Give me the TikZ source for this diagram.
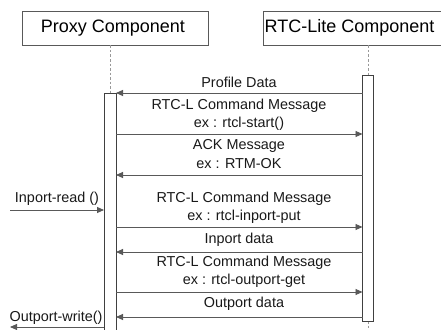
\documentclass[tikz,border=0pt]{standalone}
\usepackage{fontspec}
\setmainfont{Liberation Sans}
\usetikzlibrary{arrows.meta}
\begin{document}
\begin{tikzpicture}[x=1pt,y=-1pt,
  line/.style={draw=black!65, line width=0.9pt},
  objbox/.style={draw=black!65, line width=0.9pt, fill=white},
  objtext/.style={inner sep=0pt, font=\fontsize{18}{22}\selectfont},
  actbox/.style={draw=black!75, line width=0.9pt, fill=white},
  life/.style={draw=black!40, line width=0.9pt, dash pattern=on 2.5pt off 2pt},
  msg/.style={line, -{Triangle[length=7pt,width=6pt]}},
  lbl/.style={font=\fontsize{14.4}{17}\selectfont, inner sep=0pt, text=black!90}]
\useasboundingbox (0,0) rectangle (441,329);
\fill[white] (0,0) rectangle (441,329);

% object boxes
\draw[objbox] (22,11) rectangle (208,45.5);
\node[objtext] (proxy) at (113,28) {Proxy Component};
\draw[objbox] (263,11) rectangle (450,45.5);
\node[objtext, anchor=west] (rtc) at (264.5,28) {RTC-Lite Component};

% lifelines
\coordinate (ptop) at (110,45.5);
\coordinate (rtop) at (368,45.5);
\coordinate (pl) at (110,93);
\coordinate (rl) at (368,75);
\coordinate (rbot) at (368,321);
\coordinate (rend) at (368,329);
\draw[life] (ptop) -- (pl);
\draw[life] (rtop) -- (rl);
\draw[life] (rbot) -- (rend);

% activation bars
\draw[actbox] (104,335) -- (104,93) -- (116,93) -- (116,335);
\draw[actbox] (362.5,75) rectangle (373.5,321);

% message end points on the activation bars
\coordinate (pa1) at (116,93);   \coordinate (ra1) at (362.5,93);
\coordinate (pa2) at (116,134);  \coordinate (ra2) at (362.5,134);
\coordinate (pa3) at (116,175);  \coordinate (ra3) at (362.5,175);
\coordinate (pa4) at (116,227);  \coordinate (ra4) at (362.5,227);
\coordinate (pa5) at (116,252);  \coordinate (ra5) at (362.5,252);
\coordinate (pa6) at (116,292);  \coordinate (ra6) at (362.5,292);
\coordinate (pa7) at (116,317);  \coordinate (ra7) at (362.5,317);
\coordinate (inL) at (10,210);   \coordinate (inR) at (104,210);
\coordinate (outL) at (10,327);  \coordinate (outR) at (104,327);

% messages
\draw[msg] (ra1) -- (pa1);
\node[lbl] (m1) at (239,82) {Profile Data};

\draw[msg] (pa2) -- (ra2);
\node[lbl] (m2a) at (239,106) {RTC-L Command Message};
\node[lbl] (m2b) at (239,124) {ex : rtcl-start()};

\draw[msg] (ra3) -- (pa3);
\node[lbl] (m3a) at (239,146) {ACK Message};
\node[lbl] (m3b) at (239,164) {ex : RTM-OK};

\draw[msg] (inL) -- (inR);
\node[lbl] (in) at (57,199) {Inport-read ()};

\draw[msg] (pa4) -- (ra4);
\node[lbl] (m4a) at (244,199) {RTC-L Command Message};
\node[lbl] (m4b) at (244,217) {ex : rtcl-inport-put};

\draw[msg] (ra5) -- (pa5);
\node[lbl] (m5) at (239,240) {Inport data};

\draw[msg] (pa6) -- (ra6);
\node[lbl] (m6a) at (244,263) {RTC-L Command Message};
\node[lbl] (m6b) at (244,281) {ex : rtcl-outport-get};

\draw[msg] (ra7) -- (pa7);
\node[lbl] (m7) at (244,304) {Outport data};

\draw[msg] (outR) -- (outL);
\node[lbl] (out) at (56,318) {Outport-write()};
\end{tikzpicture}
\end{document}
